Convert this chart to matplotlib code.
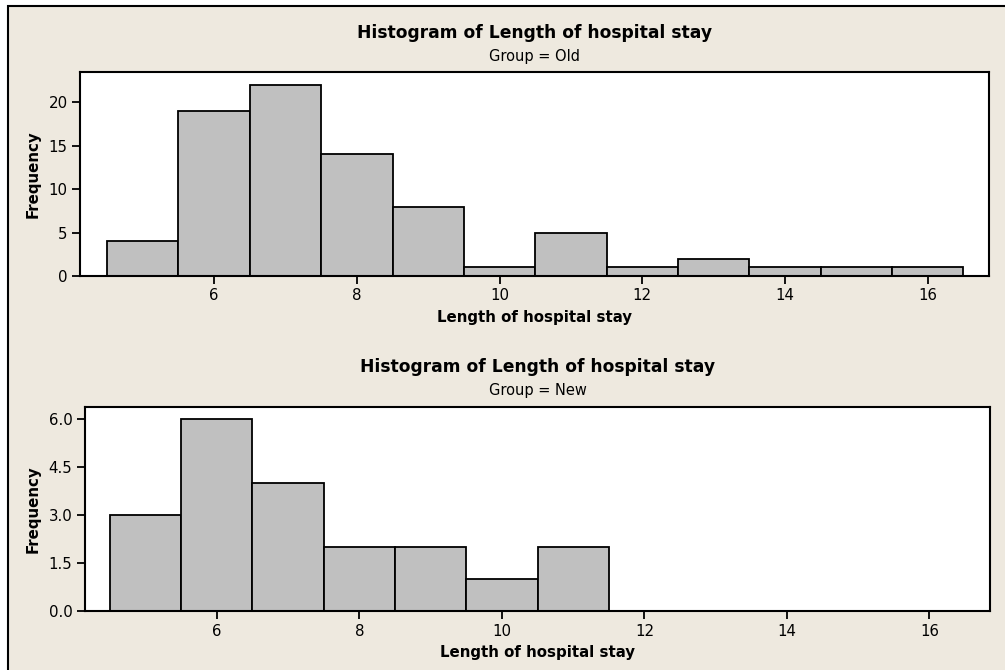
import numpy as np
import matplotlib.pyplot as plt
from matplotlib.patches import Rectangle

# length of stay bins (days) and counts per group
stay_bins = [5, 6, 7, 8, 9, 10, 11, 12, 13, 14, 15, 16]
old_counts = [4, 19, 22, 14, 8, 1, 5, 1, 2, 1, 1, 1]
new_counts = [3, 6, 4, 2, 2, 1, 2, 0, 0, 0, 0, 0]
x_ticks = [6, 8, 10, 12, 14, 16]
old_yticks = [0, 5, 10, 15, 20]
new_yticks = [0.0, 1.5, 3.0, 4.5, 6.0]

bg = '#EEE9DF'
bar_col = '#C0C0C0'
W, H = 1005, 670

fig = plt.figure(figsize=(W / 100, H / 100), dpi=100)
fig.patch.set_facecolor('white')
# beige panel with black border (only left/top visible)
fig.patches.append(Rectangle((8 / W, -0.2), 1.2, 1.2 - 6 / H, transform=fig.transFigure,
                             facecolor=bg, edgecolor='black', linewidth=1.5, zorder=-1))


def panel(rect, counts, yticks, ylim, xlim, fmt, group, title_y, sub_y, xl_y):
    l, t, r, b = rect
    ax = fig.add_axes([l / W, 1 - b / H, (r - l) / W, (b - t) / H])
    ax.bar(stay_bins, counts, width=1.0, color=bar_col, edgecolor='black', linewidth=1.3)
    ax.set_xlim(*xlim)
    ax.set_ylim(*ylim)
    ax.set_xticks(x_ticks)
    ax.set_yticks(yticks)
    ax.set_yticklabels([fmt.format(v) for v in yticks])
    ax.tick_params(labelsize=10.8, length=6, width=1.3, color='black', pad=3, direction='out')
    for s in ax.spines.values():
        s.set_linewidth(1.5)
    fig.text(33 / W, 1 - (t + b) / 2 / H, 'Frequency', rotation=90, ha='center', va='center',
             fontsize=10.8, fontweight='bold')
    cx = (l + r) / 2 / W
    fig.text(cx, 1 - title_y / H, 'Histogram of Length of hospital stay', ha='center', va='center',
             fontsize=12.3, fontweight='bold')
    fig.text(cx, 1 - sub_y / H, 'Group = ' + group, ha='center', va='center', fontsize=10.5)
    fig.text(cx, 1 - xl_y / H, 'Length of hospital stay', ha='center', va='center',
             fontsize=10.8, fontweight='bold')
    return ax


panel((80, 72, 989, 276), old_counts, old_yticks, (0, 23.5), (4.12, 16.86), '{:.0f}',
      'Old', 33, 57, 317)
panel((85, 407, 990, 611), new_counts, new_yticks, (0, 6.375), (4.15, 16.85), '{:.1f}',
      'New', 367, 391, 652)

fig.savefig('out.png', dpi=100, facecolor=fig.get_facecolor())
